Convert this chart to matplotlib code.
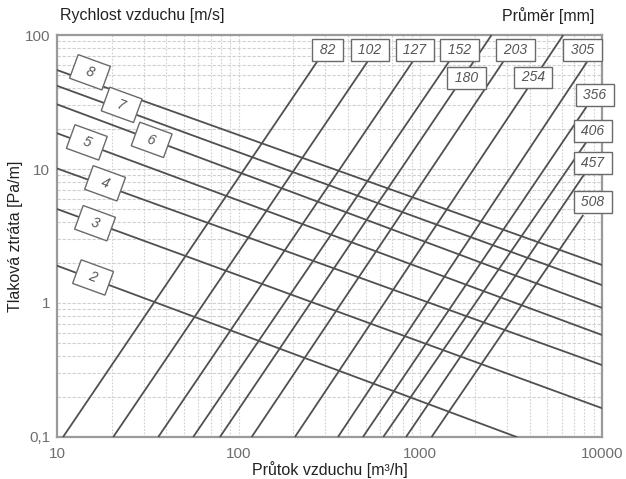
import matplotlib
matplotlib.use("Agg")
import matplotlib.pyplot as plt
from matplotlib.ticker import FixedLocator, NullFormatter

plt.rcParams["font.family"] = ["Liberation Sans", "DejaVu Sans"]

# duct diameters [mm] - steep lines
diameters = ["82", "102", "127", "152", "180", "203", "254", "305", "356", "406", "457", "508"]
diam_q_bottom = [10.8, 20.4, 36.1, 56.2, 78.9, 117.9, 204, 352, 483, 625, 834, 1153]   # flow at 0.1 Pa/m
diam_q_end = [274, 516, 914, 1456, 2466, 2858, 6116, 8395, 8224, 8224, 8054, 7880]
diam_p_end = [65.0, 64.3, 64.3, 65.0, 100, 63.2, 100, 65.0, 29.2, 16.0, 9.29, 4.54]
diam_label_q = [310, 528, 934, 1637, 1800, 3345, 4170, 7800, 9140, 8913, 8913, 8913]
diam_label_p = [77.3, 77.3, 77.3, 77.3, 47.5, 77.3, 48.2, 77.3, 35.7, 19.2, 11.1, 5.68]

# air velocity [m/s] - falling lines
velocities = ["8", "7", "6", "5", "4", "3", "2"]
vel_q_start = [10, 10, 10, 10, 10, 10, 10]
vel_p_start = [54.8, 41.8, 30.4, 18.5, 10.1, 5.03, 1.90]
vel_q_end = [10000, 10000, 10000, 10000, 10000, 10000, 3390]
vel_p_end = [1.92, 1.36, 0.92, 0.577, 0.344, 0.164, 0.1]
vel_label_q = [15.2, 22.7, 33.2, 14.6, 18.4, 16.2, 15.8]
vel_label_p = [52.7, 30.1, 16.5, 15.8, 7.82, 3.94, 1.55]

x_ticks = [10, 100, 1000, 10000]
x_ticklabels = ["10", "100", "1000", "10000"]
y_ticks = [0.1, 1, 10, 100]
y_ticklabels = ["0,1", "1", "10", "100"]

line_col = "#505050"
box_kw = dict(boxstyle="square,pad=0.28", fc="white", ec="#6a6a6a", lw=1.0)
vbox_kw = dict(boxstyle="square,pad=0.4", fc="white", ec="#6a6a6a", lw=1.0)

fig = plt.figure(figsize=(6.26, 4.79), dpi=100)
ax = fig.add_axes([0.091, 0.0877, 0.8707, 0.8392])
ax.set_xscale("log")
ax.set_yscale("log")
ax.set_xlim(10, 10000)
ax.set_ylim(0.1, 100)

# grid
minor_x = [m * 10 ** e for e in range(1, 4) for m in range(2, 10)]
minor_y = [m * 10.0 ** e for e in range(-1, 2) for m in range(2, 10)]
ax.xaxis.set_minor_locator(FixedLocator(minor_x))
ax.yaxis.set_minor_locator(FixedLocator(minor_y))
ax.xaxis.set_minor_formatter(NullFormatter())
ax.yaxis.set_minor_formatter(NullFormatter())
ax.grid(which="both", axis="x", color="#d0d0d0", linestyle=(0, (1.5, 1.5)), lw=0.8)
ax.grid(which="both", axis="y", color="#d0d0d0", linestyle=(0, (3, 1.5)), lw=0.8)
ax.set_axisbelow(True)

# diameter lines
for i, d in enumerate(diameters):
    ax.plot([diam_q_bottom[i], diam_q_end[i]], [0.1, diam_p_end[i]], color=line_col, lw=1.3,
            solid_capstyle="butt", zorder=3, clip_on=False)
    ax.text(diam_label_q[i], diam_label_p[i], " " + d + " ", ha="center", va="center",
            fontsize=10, style="italic", color="#555555", bbox=box_kw, zorder=5, clip_on=False)

# velocity lines
for i, v in enumerate(velocities):
    ax.plot([vel_q_start[i], vel_q_end[i]], [vel_p_start[i], vel_p_end[i]], color=line_col, lw=1.3,
            zorder=3)
    ax.text(vel_label_q[i], vel_label_p[i], "  " + v + "  ", ha="center", va="center",
            rotation=-20, rotation_mode="anchor", fontsize=10, style="italic", color="#555555",
            bbox=vbox_kw, zorder=5)

ax.set_xticks(x_ticks)
ax.set_xticklabels(x_ticklabels)
ax.set_yticks(y_ticks)
ax.set_yticklabels(y_ticklabels)
ax.tick_params(which="both", length=0, colors="#6e6e6e", labelsize=11)
ax.tick_params(axis="x", pad=7)
ax.tick_params(axis="y", pad=5)

for s in ax.spines.values():
    s.set_color("#9a9a9a")
    s.set_linewidth(1.6)

ax.set_xlabel("Průtok vzduchu [m³/h]", fontsize=11.5, color="#222222", labelpad=0)
ax.set_ylabel("Tlaková ztráta [Pa/m]", fontsize=11.5, color="#222222", labelpad=1)
fig.text(0.096, 0.968, "Rychlost vzduchu [m/s]", fontsize=11.5, color="#222222", ha="left", va="center")
fig.text(0.875, 0.968, "Průměr [mm]", fontsize=11.5, color="#222222", ha="center", va="center")

fig.savefig("out.png", dpi=100)
